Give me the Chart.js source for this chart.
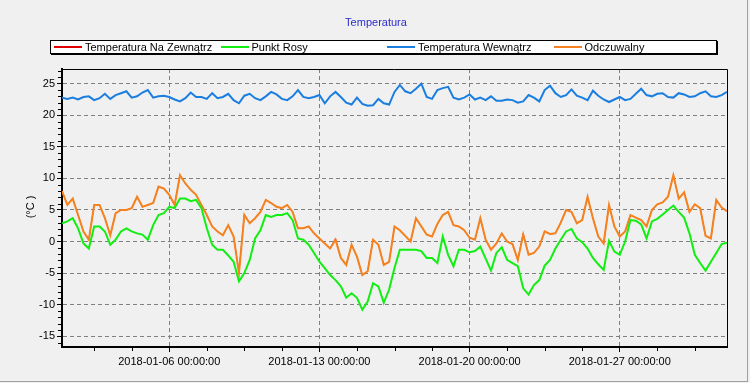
<!DOCTYPE html>
<html>
<head>
<meta charset="utf-8">
<script src="https://cdn.jsdelivr.net/npm/chart.js@4.4.1/dist/chart.umd.min.js"></script>
<style>
  html, body { margin: 0; padding: 0; background: #f0f0f0; }
  #wrap { position: relative; width: 750px; height: 383px; overflow: hidden; background: #f0f0f0;
          font-family: "Liberation Sans", Arial, sans-serif; }
  #frame { position: absolute; left: 0; top: 0; width: 748px; height: 382px; box-sizing: border-box;
           border-right: 1px solid #a0a0a0; border-bottom: 1px solid #a0a0a0; pointer-events: none; }
  canvas { position: absolute; left: 0; top: 0; }
  #title { position: absolute; left: 0; width: 752px; top: 16px; text-align: center; font-size: 11px;
           line-height: 13px; color: #2b2bcc; }
  #legend { position: absolute; left: 50px; top: 40px; width: 667px; height: 14px; background: #fff;
            border: 1px solid #000; box-shadow: 1px 1px 0 #000; box-sizing: border-box; }
  .li { position: absolute; top: 0; height: 13px; white-space: nowrap; font-size: 11px; line-height: 13px; color: #000; }
  .li span.sw { position: absolute; left: 0; top: 5px; width: 28px; height: 2px; }
  .li span.tx { position: absolute; left: 31px; top: 0; }
  #ytitle { position: absolute; left: 30px; top: 207px; transform: translate(-50%, -50%) rotate(-90deg);
            font-size: 11px; line-height: 13px; color: #000; white-space: nowrap; }
</style>
</head>
<body>
<div id="wrap">
  <canvas id="c" width="750" height="383"></canvas>
  <div id="title"></div>
  <div id="legend"></div>
  <div id="ytitle"></div>
  <div id="frame"></div>
</div>
<script>
// ---------- data (6-hourly samples from 2018-01-01 00:00) ----------
const chartTitle = 'Temperatura';
const yAxisTitle = '(°C )';
const seriesLabels = ['Temperatura Na Zewnątrz', 'Punkt Rosy', 'Temperatura Wewnątrz', 'Odczuwalny'];
const seriesColors = ['#e00000', '#11ee11', '#1a7ee0', '#f5821f'];
const sampleStepDays = 0.25;

const outdoorTemp = [
  8.0, 5.8, 6.8, 4.2, 1.6, 0.3, 5.8, 5.8, 3.7, 1.0, 4.5, 5.0, 5.0, 5.3, 7.1, 5.5,
  5.8, 6.1, 8.7, 8.4, 7.4, 5.8, 10.5, 9.2, 8.2, 7.4, 5.8, 4.2, 2.4, 1.6, 1.0, 2.6,
  0.8, -4.8, 4.3, 2.9, 3.7, 4.7, 6.6, 6.1, 5.5, 5.3, 5.8, 4.7, 2.1, 2.1, 2.4, 1.3,
  0.5, -0.3, -1.1, 0.5, -2.6, -3.7, -0.5, -2.4, -5.3, -4.7, 0.3, -0.5, -3.7, -3.2, 2.4, 1.8,
  0.9, 0.0, 3.7, 2.4, 1.1, 0.8, 2.8, 4.2, 4.7, 2.6, 2.4, 1.8, 0.6, 0.3, 3.7, 0.3,
  -1.3, -0.3, 1.3, 0.0, -0.4, -2.9, 1.3, -2.1, -1.8, -0.8, 1.6, 1.2, 1.3, 3.0, 5.0, 4.7,
  2.9, 3.4, 7.1, 3.7, 0.8, -0.3, 5.8, 2.4, 0.8, 1.6, 4.2, 3.8, 3.4, 2.4, 5.0, 5.9,
  6.2, 7.1, 10.5, 6.8, 7.8, 4.7, 5.9, 5.3, 0.9, 0.5, 6.6, 5.4, 4.8
];
const dewPoint = [
  2.9, 3.2, 3.7, 2.1, -0.3, -1.1, 2.4, 2.4, 1.6, -0.5, 0.3, 1.6, 2.1, 1.6, 1.3, 1.1,
  0.3, 2.6, 4.2, 4.5, 5.5, 5.3, 6.8, 6.8, 6.4, 6.6, 5.3, 2.1, -0.5, -1.3, -1.3, -2.2,
  -3.2, -6.3, -5.0, -2.9, 0.5, 1.8, 4.2, 3.9, 4.2, 4.2, 4.5, 3.4, 0.5, 0.3, -0.5, -1.8,
  -3.2, -4.2, -5.3, -6.1, -7.1, -8.9, -8.2, -8.9, -10.8, -9.5, -6.6, -7.1, -9.7, -7.6, -4.2, -1.3,
  -1.3, -1.3, -1.3, -1.5, -2.6, -2.6, -3.4, 0.8, -2.1, -3.9, -1.3, -1.3, -1.7, -1.5, -0.8, -2.7,
  -4.6, -1.8, -0.9, -2.9, -3.4, -3.9, -7.4, -8.4, -6.9, -6.1, -3.8, -2.9, -1.1, 0.3, 1.6, 2.0,
  0.5, -0.1, -1.1, -2.6, -3.6, -4.5, 0.1, -1.6, -2.1, 0.0, 3.4, 3.3, 2.7, 0.5, 3.2, 3.6,
  4.3, 5.0, 5.7, 4.7, 3.8, 1.3, -2.1, -3.4, -4.6, -3.2, -1.8, -0.4, -0.2
];
const indoorTemp = [
  22.8, 22.6, 22.8, 22.5, 22.9, 23.0, 22.4, 22.7, 23.4, 22.6, 23.2, 23.5, 23.8, 22.8, 23.0, 23.6,
  24.0, 22.8, 23.0, 23.1, 22.9, 22.5, 22.2, 22.7, 23.6, 22.9, 22.9, 22.6, 23.5, 22.7, 22.9, 23.4,
  22.4, 21.9, 23.1, 23.4, 22.7, 22.4, 23.0, 23.7, 23.3, 22.6, 22.4, 23.0, 24.0, 22.9, 22.7, 22.9,
  23.2, 21.9, 23.0, 23.7, 22.9, 22.0, 21.7, 22.8, 21.8, 21.5, 21.6, 22.6, 21.9, 21.7, 23.7, 24.8,
  23.8, 23.5, 24.2, 25.0, 22.9, 22.6, 24.0, 24.3, 24.5, 22.8, 22.5, 22.8, 23.3, 22.5, 22.8, 22.4,
  23.0, 22.3, 22.3, 22.5, 22.4, 22.0, 22.2, 23.2, 22.8, 22.2, 24.0, 24.7, 23.5, 22.9, 23.2, 24.1,
  23.1, 22.8, 22.4, 23.9, 23.1, 22.5, 22.1, 22.5, 22.9, 22.4, 22.6, 23.4, 24.2, 23.2, 23.0, 23.4,
  23.5, 22.9, 22.8, 23.5, 23.3, 22.9, 23.0, 23.5, 23.8, 23.0, 22.9, 23.2, 23.7
];
const feelsLike = [
  8.0, 5.8, 6.8, 4.2, 1.6, 0.3, 5.8, 5.8, 3.7, 1.0, 4.5, 5.0, 5.0, 5.3, 7.1, 5.5,
  5.8, 6.1, 8.7, 8.4, 7.4, 5.8, 10.5, 9.2, 8.2, 7.4, 5.8, 4.2, 2.4, 1.6, 1.0, 2.6,
  0.8, -5.0, 4.2, 2.9, 3.7, 4.7, 6.6, 6.1, 5.5, 5.3, 5.8, 4.7, 2.1, 2.1, 2.4, 1.3,
  0.5, -0.3, -1.1, 0.3, -2.6, -3.7, -0.5, -2.4, -5.3, -4.7, 0.3, -0.5, -3.7, -3.2, 2.4, 1.8,
  0.9, 0.0, 3.7, 2.4, 1.1, 0.8, 2.8, 4.2, 4.7, 2.6, 2.4, 1.8, 0.6, 0.3, 3.7, 0.3,
  -1.3, -0.3, 1.3, 0.0, -0.4, -2.9, 1.1, -2.1, -1.8, -0.8, 1.6, 1.2, 1.3, 3.0, 5.0, 4.7,
  2.9, 3.4, 7.1, 3.7, 0.8, -0.3, 5.8, 2.4, 0.8, 1.6, 4.2, 3.8, 3.4, 2.4, 5.0, 5.9,
  6.2, 7.1, 10.5, 6.8, 7.8, 4.7, 5.9, 5.3, 0.9, 0.5, 6.6, 5.4, 4.8
];

// axis ticks
const xRangeDays = [0, 31];
const xMajorTickDays = [5, 12, 19, 26];
const xTickLabels = ['2018-01-06 00:00:00', '2018-01-13 00:00:00', '2018-01-20 00:00:00', '2018-01-27 00:00:00'];
const xMinorTickDays = [1.5, 3.25, 6.75, 8.5, 10.25, 13.75, 15.5, 17.25, 20.75, 22.5, 24.25, 27.75, 29.5];
const yRange = [-16.7, 27.33];
const yTickValues = [-15, -10, -5, 0, 5, 10, 15, 20, 25];

// ---------- build ----------
const FONT = '"Liberation Sans", Arial, sans-serif';
function toPoints(arr) { return arr.map((v, i) => ({ x: i * sampleStepDays, y: v })); }
const seriesValues = [outdoorTemp, dewPoint, indoorTemp, feelsLike];
const seriesWidths = [1, 2, 2, 2];
const drawOrder = [3, 1, 0, 2]; // higher drawn first

document.getElementById('title').textContent = chartTitle;
document.getElementById('ytitle').textContent = yAxisTitle;
const legendEl = document.getElementById('legend');
seriesLabels.forEach((lab, i) => {
  const d = document.createElement('div');
  d.className = 'li';
  d.style.left = (3 + i * 166.5) + 'px';
  d.innerHTML = '<span class="sw" style="background:' + seriesColors[i] + '"></span><span class="tx"></span>';
  d.querySelector('.tx').textContent = lab;
  legendEl.appendChild(d);
});

const framePlugin = {
  id: 'framePlugin',
  afterDraw(chart) {
    const { ctx, chartArea: a, scales } = chart;
    ctx.save();
    ctx.strokeStyle = '#000';
    ctx.lineWidth = 1;
    ctx.beginPath();
    ctx.moveTo(a.left, a.top + 0.5); ctx.lineTo(a.right + 0.5, a.top + 0.5);
    ctx.lineTo(a.right + 0.5, a.bottom);
    ctx.stroke();
    // minor ticks
    ctx.beginPath();
    const ys = scales.y;
    for (let v = Math.ceil(yRange[0]); v <= Math.floor(yRange[1]); v++) {
      if (v % 5 === 0) continue;
      const py = Math.round(ys.getPixelForValue(v)) + 0.5;
      ctx.moveTo(a.left - 4, py); ctx.lineTo(a.left - 1, py);
    }
    const xs = scales.x;
    xMinorTickDays.forEach(d => {
      const px = Math.round(xs.getPixelForValue(d)) + 0.5;
      ctx.moveTo(px, a.bottom + 1); ctx.lineTo(px, a.bottom + 4);
    });
    ctx.stroke();
    ctx.restore();
  }
};

new Chart(document.getElementById('c'), {
  type: 'line',
  data: {
    datasets: seriesLabels.map((lab, i) => ({
      label: lab,
      data: toPoints(seriesValues[i]),
      borderColor: seriesColors[i],
      backgroundColor: seriesColors[i],
      borderWidth: seriesWidths[i],
      pointRadius: 0,
      tension: 0,
      fill: false,
      order: drawOrder[i]
    }))
  },
  options: {
    responsive: false,
    animation: false,
    devicePixelRatio: 1,
    layout: { padding: { top: 69, right: 23, left: 0, bottom: 0 } },
    plugins: { legend: { display: false }, title: { display: false }, tooltip: { enabled: false } },
    scales: {
      x: {
        type: 'linear',
        min: xRangeDays[0], max: xRangeDays[1],
        afterFit(s) { s.height = 36; },
        afterBuildTicks(s) { s.ticks = xMajorTickDays.map(v => ({ value: v })); },
        ticks: {
          callback: (v, idx) => xTickLabels[idx],
          font: { family: FONT, size: 11 }, color: '#000', padding: 3,
          maxRotation: 0, minRotation: 0, autoSkip: false
        },
        grid: { color: '#808080', tickColor: '#000', tickLength: 5, tickBorderDash: [], lineWidth: 1 },
        border: { display: true, color: '#000', width: 2, dash: [4, 3] }
      },
      y: {
        type: 'linear',
        min: yRange[0], max: yRange[1],
        afterFit(s) { s.width = 62; },
        afterBuildTicks(s) { s.ticks = yTickValues.map(v => ({ value: v })); },
        ticks: {
          callback: v => String(v),
          font: { family: FONT, size: 11 }, color: '#000', padding: 2
        },
        grid: { color: '#808080', tickColor: '#000', tickLength: 5, tickBorderDash: [], lineWidth: 1 },
        border: { display: true, color: '#000', width: 2, dash: [4, 3] }
      }
    }
  },
  plugins: [framePlugin]
});
</script>
</body>
</html>
